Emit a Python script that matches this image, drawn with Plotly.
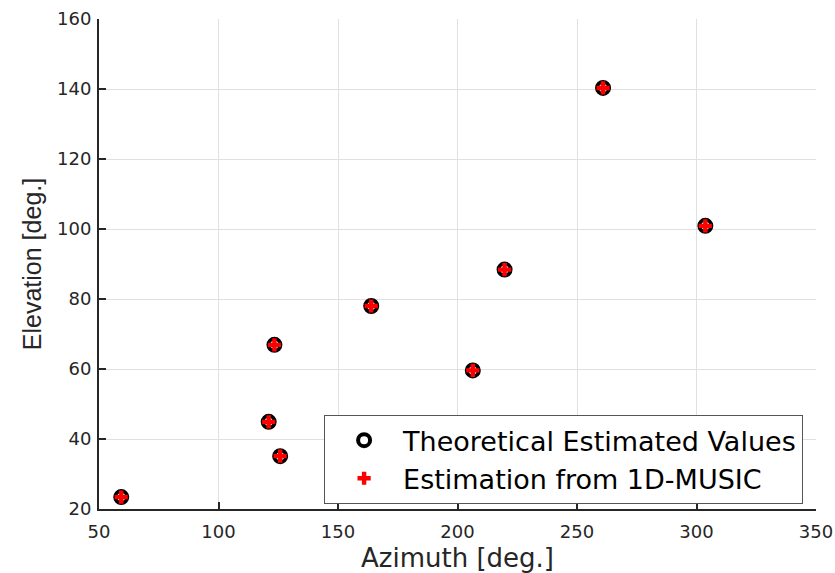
import plotly.graph_objects as go

azimuth = [59.3, 121.0, 125.8, 123.4, 163.9, 206.4, 219.7, 260.9, 303.7]
elevation = [23.4, 44.9, 35.1, 66.9, 78.0, 59.6, 88.4, 140.3, 100.9]
est_azimuth = [59.3, 121.0, 125.8, 123.4, 163.9, 206.4, 219.7, 260.9, 303.7]
est_elevation = [23.4, 44.9, 35.1, 66.9, 78.0, 59.6, 88.4, 140.3, 100.9]
x_ticks = [50, 100, 150, 200, 250, 300, 350]
y_ticks = [20, 40, 60, 80, 100, 120, 140, 160]

txt = "#262626"
wide_font = "DejaVu Sans, sans-serif"
narrow_font = "Liberation Sans, Arial, sans-serif"

fig = go.Figure()
fig.add_trace(go.Scatter(
    x=azimuth, y=elevation, mode="markers", name="Theoretical Estimated Values",
    marker=dict(symbol="circle-open", size=12, color="black", line=dict(width=4, color="black")),
))
fig.add_trace(go.Scatter(
    x=est_azimuth, y=est_elevation, mode="markers", name="Estimation from 1D-MUSIC",
    marker=dict(symbol="cross", size=11, color="red", line=dict(width=0)),
))

axis_common = dict(
    showline=True, linecolor=txt, linewidth=2, mirror=False,
    ticks="inside", ticklen=7, tickwidth=2, tickcolor=txt,
    showgrid=True, gridcolor="#e0e0e0", gridwidth=1,
    zeroline=False, tickfont=dict(size=18, color=txt, family=wide_font),
    automargin=False,
)

fig.update_layout(
    width=835, height=573,
    margin=dict(l=99, r=19, t=19, b=64),
    paper_bgcolor="white", plot_bgcolor="white",
    font=dict(family=wide_font, color=txt),
    xaxis=dict(range=[50, 350], tickvals=x_ticks, ticktext=[str(v) for v in x_ticks],
               title=dict(text="Azimuth [deg.]", font=dict(size=26, color=txt, family=wide_font), standoff=10),
               ticklabelstandoff=5,
               **axis_common),
    yaxis=dict(range=[20, 160], tickvals=y_ticks, ticktext=[str(v) for v in y_ticks],
               title=dict(text="Elevation [deg.]", font=dict(size=25, color=txt, family=narrow_font), standoff=8),
               ticklabelstandoff=2,
               **axis_common),
    legend=dict(
        x=0.982, y=0.01, xanchor="right", yanchor="bottom",
        bgcolor="white", bordercolor="#555555", borderwidth=1,
        font=dict(size=27, color="black", family=wide_font),
        itemwidth=68, tracegroupgap=0,
    ),
    showlegend=True,
)

fig.write_html(
    "out.html",
    config={"displayModeBar": False},
    post_script="document.body.style.margin='0';document.body.style.overflow='hidden';",
)
